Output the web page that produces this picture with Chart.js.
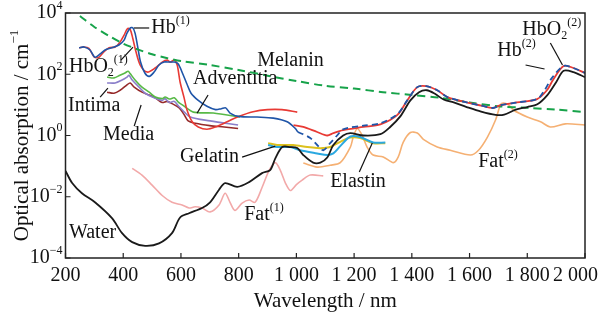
<!DOCTYPE html>
<html>
<head>
<meta charset="utf-8">
<script src="https://cdn.jsdelivr.net/npm/chart.js@4.4.1/dist/chart.umd.min.js"></script>
<style>
  html, body { margin: 0; padding: 0; background: #fff; }
</style>
</head>
<body>
<canvas id="chart" width="608" height="320"></canvas>
<script>
// tick values
const xTicks = [200, 400, 600, 800, 1000, 1200, 1400, 1600, 1800, 2000];
const yTicks = [1e-4, 1e-2, 1, 1e2, 1e4];

// wavelength (nm) / absorption (cm^-1)
const waterNm = [200, 223, 257, 302, 361, 396, 431, 476, 524, 569, 597, 628, 673, 701, 732, 753, 795, 836, 881, 909, 927, 951, 979, 1003, 1024, 1058, 1083, 1107, 1128, 1162, 1187, 1232, 1291, 1325, 1360, 1395, 1425, 1452, 1480, 1510, 1545, 1590, 1640, 1690, 1720, 1760, 1800, 1835, 1868, 1900, 1926, 1960, 2000];
const waterAbs = [0.07, 0.028, 0.013, 0.0066, 0.002, 0.00065, 0.00033, 0.00025, 0.0003, 0.00065, 0.0021, 0.0029, 0.0043, 0.0066, 0.017, 0.028, 0.021, 0.03, 0.059, 0.074, 0.18, 0.42, 0.42, 0.39, 0.23, 0.13, 0.13, 0.19, 0.49, 1.0, 1.2, 1.0, 1.1, 1.9, 4.2, 14, 26, 30, 23, 15, 12, 8.5, 6, 4.7, 4.8, 7, 8.5, 10.5, 20, 55, 130, 118, 80];

const hbo2aNm = [247, 264, 281, 300, 316, 333, 351, 372, 389, 403, 415, 424, 433, 443, 459, 483, 511, 535, 552, 563, 577, 587, 597, 611, 621, 639, 660, 690, 720, 760, 800, 850, 900, 950, 1003];
const hbo2aAbs = [730, 780, 700, 360, 360, 540, 730, 780, 1120, 1900, 3100, 2900, 1500, 600, 200, 118, 160, 250, 290, 250, 290, 200, 56, 17, 6.8, 2.8, 1.9, 1.6, 1.9, 2.8, 4.2, 6, 7, 7, 5.8];

const hbaNm = [247, 264, 285, 302, 320, 337, 361, 385, 403, 413, 424, 433, 441, 450, 460, 475, 490, 507, 524, 542, 559, 577, 590, 605, 620, 635, 660, 690, 720, 740, 755, 770, 800, 864, 920, 968, 996, 1005];
const hbaAbs = [730, 780, 620, 360, 460, 620, 730, 900, 1300, 2200, 3200, 3300, 2200, 800, 250, 110, 85, 118, 200, 250, 250, 250, 220, 110, 50, 24, 14, 9, 7, 7.5, 8, 5.4, 4.2, 4.0, 3.7, 2.8, 1.7, 1.3];

const hbbNm = [1005, 1048, 1072, 1093, 1117, 1141, 1162, 1232, 1291, 1350, 1384, 1419, 1450, 1488, 1523, 1590, 1640, 1681, 1707, 1764, 1834, 1860, 1885, 1926, 1960, 2000];
const hbbAbs = [1.3, 0.83, 0.49, 0.33, 0.56, 1.0, 1.6, 2.1, 2.5, 5, 14, 38, 41, 30, 18, 12, 9.5, 7.9, 9.8, 12, 15.5, 30, 75, 186, 160, 110];

const hbo2bNm = [990, 1024, 1072, 1107, 1128, 1162, 1232, 1291, 1350, 1384, 1419, 1450, 1488, 1523, 1590, 1640, 1681, 1707, 1764, 1834, 1868, 1889, 1926, 1960, 2000];
const hbo2bAbs = [2.2, 1.9, 1.3, 1.0, 1.2, 1.5, 1.9, 2.3, 4.7, 14, 38, 41, 30, 18, 12, 9.5, 7.9, 9.8, 12, 15.5, 30, 65, 186, 160, 110];

const melNm = [250, 300, 350, 400, 450, 500, 550, 600, 700, 800, 900, 1000, 1100, 1200, 1300, 1400, 1500, 1600, 1700, 1800, 1900, 2000];
const melAbs = [8000, 3500, 1800, 1000, 650, 450, 340, 270, 200, 137, 90, 60, 42, 34, 26, 21, 17, 12, 9, 8, 7, 5.8];

const advNm = [344, 368, 389, 406, 417, 424, 441, 465, 490, 511, 535, 545, 560, 577, 592, 605, 643, 712, 805];
const advAbs = [81, 76, 93, 110, 125, 105, 65, 38, 26, 18, 16, 18, 15.5, 17, 12, 10, 5.8, 5.4, 4.0];

const intNm = [344, 372, 396, 413, 420, 431, 455, 476, 507, 535, 545, 559, 577, 592, 605, 632, 701, 798];
const intAbs = [52, 52, 65, 81, 93, 65, 38, 24, 17, 14, 16, 12, 13, 9, 6.8, 4.0, 3.0, 2.2];

const medNm = [344, 368, 389, 413, 424, 438, 465, 490, 511, 535, 552, 569, 594, 610, 625, 650, 700, 750, 798];
const medAbs = [26, 24, 30, 45, 52, 38, 26, 21, 17, 12, 13, 11, 8, 5, 3, 2.5, 2.1, 1.9, 1.7];

const gelNm = [902, 933, 989, 1038, 1072, 1093, 1117, 1152, 1187, 1221, 1266, 1308];
const gelAbs = [0.56, 0.49, 0.49, 0.42, 0.39, 0.39, 0.42, 0.62, 0.86, 0.83, 0.56, 0.56];

const elaNm = [902, 933, 979, 1013, 1072, 1107, 1128, 1152, 1187, 1221, 1266, 1308];
const elaAbs = [0.49, 0.42, 0.42, 0.33, 0.26, 0.23, 0.26, 0.45, 0.93, 0.89, 0.59, 0.59];

const fat1Nm = [431, 465, 500, 535, 569, 604, 628, 649, 673, 701, 732, 753, 770, 787, 812, 836, 857, 881, 906, 927, 944, 962, 979, 1000, 1020, 1048, 1093];
const fat1Abs = [0.085, 0.051, 0.024, 0.011, 0.0066, 0.0054, 0.0043, 0.0047, 0.0043, 0.0032, 0.0054, 0.013, 0.0066, 0.0036, 0.0062, 0.0078, 0.0066, 0.02, 0.074, 0.13, 0.074, 0.028, 0.016, 0.025, 0.035, 0.051, 0.048];

const fat2Nm = [1024, 1072, 1117, 1152, 1187, 1197, 1211, 1228, 1245, 1266, 1301, 1336, 1353, 1370, 1395, 1419, 1440, 1488, 1533, 1603, 1631, 1662, 1690, 1707, 1717, 1735, 1752, 1800, 1846, 1880, 1932, 2000];
const fat2Abs = [0.126, 0.093, 0.107, 0.13, 0.42, 0.89, 1.7, 1.0, 0.42, 0.23, 0.2, 0.13, 0.2, 0.6, 1.25, 1.2, 0.75, 0.42, 0.33, 0.23, 0.33, 0.89, 3.2, 10, 11.5, 10, 6.8, 4.0, 2.8, 1.9, 2.4, 2.2];

// curve labels: text parts, anchor (nm, abs), optional leader line
const notes = [
  { parts: [['Water']], at: [212, 6.5e-4] },
  { parts: [['Fat'], ['(1)', 'sup']], at: [819, 0.0025] },
  { parts: [['Gelatin']], at: [597, 0.197], line: [[812, 0.197], [927, 0.45]] },
  { parts: [['Elastin']], at: [1117, 0.032], line: [[1218, 0.064], [1263, 0.565]] },
  { parts: [['Fat'], ['(2)', 'sup']], at: [1630, 0.135] },
  { parts: [['Melanin']], at: [864, 270] },
  { parts: [['Adventitia']], at: [642, 72], line: [[694, 21], [656, 5.4]] },
  { parts: [['Intima']], at: [209, 9.1], line: [[320, 18], [347, 35.5]] },
  { parts: [['Media']], at: [330, 1.03], line: [[438, 2.03], [462, 9.9]] },
  { parts: [['HbO'], ['2', 'sub'], ['(1)', 'sup']], at: [212, 174], line: [[392, 290], [434, 770]] },
  { parts: [['Hb'], ['(1)', 'sup']], at: [497, 3240], line: [[437, 3240], [490, 3240]] },
  { parts: [['Hb'], ['(2)', 'sup']], at: [1696, 575], line: [[1794, 200], [1860, 148]] },
  { parts: [['HbO'], ['2', 'sub'], ['(2)', 'sup']], at: [1783, 2780], line: [[1880, 1050], [1922, 200]] }
];

const FONT = '"Liberation Serif", "Times New Roman", Times, serif';

function pts(nm, abs) {
  return nm.map((x, i) => ({ x: x, y: abs[i] }));
}

function line(label, nm, abs, color, extra) {
  return Object.assign({
    label: label,
    data: pts(nm, abs),
    borderColor: color,
    borderWidth: 1.6,
    pointRadius: 0,
    fill: false,
    tension: 0.3
  }, extra || {});
}

function fontFor(p, size) {
  return (p[1] ? Math.round(size * 0.6) : size) + 'px ' + FONT;
}

function drawRich(ctx, parts, x, y, size, align) {
  const widths = parts.map(p => { ctx.font = fontFor(p, size); return ctx.measureText(p[0]).width; });
  const total = widths.reduce((a, b) => a + b, 0);
  let cx = align === 'right' ? x - total : align === 'center' ? x - total / 2 : x;
  parts.forEach((p, i) => {
    ctx.font = fontFor(p, size);
    let dy = 0;
    if (p[1] === 'sup') dy = -size * 0.36;
    if (p[1] === 'sub') dy = size * 0.3;
    ctx.fillText(p[0], cx, y + dy);
    cx += widths[i];
  });
  return total;
}

function fmtNm(v) {
  return v >= 1000 ? Math.floor(v / 1000) + ' ' + String(v % 1000).padStart(3, '0') : String(v);
}

const decorPlugin = {
  id: 'decor',
  afterDraw(chart) {
    const ctx = chart.ctx;
    const a = chart.chartArea;
    const xs = chart.scales.x, ys = chart.scales.y;
    ctx.save();
    ctx.fillStyle = '#111';
    ctx.strokeStyle = '#222';
    ctx.textBaseline = 'middle';

    // frame
    ctx.lineWidth = 1.5;
    ctx.strokeRect(a.left, a.top, a.right - a.left, a.bottom - a.top);

    // inward ticks
    ctx.lineWidth = 1.2;
    ctx.beginPath();
    xTicks.forEach(v => {
      const px = xs.getPixelForValue(v);
      ctx.moveTo(px, a.bottom); ctx.lineTo(px, a.bottom - 5);
    });
    yTicks.forEach(v => {
      const py = ys.getPixelForValue(v);
      ctx.moveTo(a.left, py); ctx.lineTo(a.left + 5, py);
    });
    ctx.stroke();

    // x tick labels
    ctx.font = '20px ' + FONT;
    ctx.textAlign = 'left';
    xTicks.forEach(v => {
      const t = fmtNm(v);
      const w = ctx.measureText(t).width;
      let cx = xs.getPixelForValue(v);
      if (cx + w / 2 > 598) cx = 598 - w / 2;
      ctx.fillText(t, cx - w / 2, a.bottom + 18);
    });

    // y tick labels 10^n
    yTicks.forEach(v => {
      const e = Math.round(Math.log10(v));
      const exp = e < 0 ? '\u2212' + (-e) : String(e);
      drawRich(ctx, [['10'], [exp, 'sup']], a.left - 3, ys.getPixelForValue(v), 20, 'right');
    });

    // axis titles
    drawRich(ctx, [['Wavelength / nm']], (a.left + a.right) / 2, 301, 21, 'center');
    ctx.save();
    ctx.translate(22, (a.top + a.bottom) / 2);
    ctx.rotate(-Math.PI / 2);
    drawRich(ctx, [['Optical absorption / cm'], ['\u22121', 'sup']], 0, 0, 21, 'center');
    ctx.restore();

    // curve labels with leaders
    ctx.lineWidth = 1.2;
    ctx.strokeStyle = '#111';
    notes.forEach(n => {
      if (n.line) {
        ctx.beginPath();
        ctx.moveTo(xs.getPixelForValue(n.line[0][0]), ys.getPixelForValue(n.line[0][1]));
        ctx.lineTo(xs.getPixelForValue(n.line[1][0]), ys.getPixelForValue(n.line[1][1]));
        ctx.stroke();
      }
      drawRich(ctx, n.parts, xs.getPixelForValue(n.at[0]), ys.getPixelForValue(n.at[1]), 20, 'left');
    });
    ctx.restore();
  }
};

// first in list is drawn on top
const datasets = [
  line('Hb(2)', hbbNm, hbbAbs, '#1f55a8', { borderDash: [6, 4], borderWidth: 1.8 }),
  line('HbO2(2)', hbo2bNm, hbo2bAbs, '#e83a34', { borderWidth: 1.8 }),
  line('Water', waterNm, waterAbs, '#1a1a1a', { borderWidth: 1.8 }),
  line('Melanin', melNm, melAbs, '#17a34a', { borderDash: [8, 5], borderWidth: 2 }),
  line('Hb(1)', hbaNm, hbaAbs, '#1f55a8'),
  line('HbO2(1)', hbo2aNm, hbo2aAbs, '#e83a34'),
  line('Adventitia', advNm, advAbs, '#58b947'),
  line('Intima', intNm, intAbs, '#8b7fca'),
  line('Media', medNm, medAbs, '#962a2a'),
  line('Elastin', elaNm, elaAbs, '#2aa8e0', { borderWidth: 2 }),
  line('Gelatin', gelNm, gelAbs, '#dcc11e', { borderWidth: 2 }),
  line('Fat(1)', fat1Nm, fat1Abs, '#f2a9a9'),
  line('Fat(2)', fat2Nm, fat2Abs, '#f5b073')
];
datasets.forEach((d, i) => { d.order = i; });

new Chart(document.getElementById('chart'), {
  type: 'line',
  data: { datasets: datasets },
  options: {
    responsive: false,
    devicePixelRatio: 1,
    animation: false,
    layout: { padding: { top: 13, right: 23, left: 0, bottom: 0 } },
    plugins: { legend: { display: false }, tooltip: { enabled: false } },
    scales: {
      x: {
        type: 'linear', min: 200, max: 2000,
        ticks: { display: false, stepSize: 200 },
        grid: { display: false },
        border: { display: false },
        afterFit: s => { s.height = 62; }
      },
      y: {
        type: 'logarithmic', min: 1e-4, max: 1e4,
        ticks: { display: false },
        grid: { display: false },
        border: { display: false },
        afterFit: s => { s.width = 65.5; }
      }
    }
  },
  plugins: [decorPlugin]
});
</script>
</body>
</html>
